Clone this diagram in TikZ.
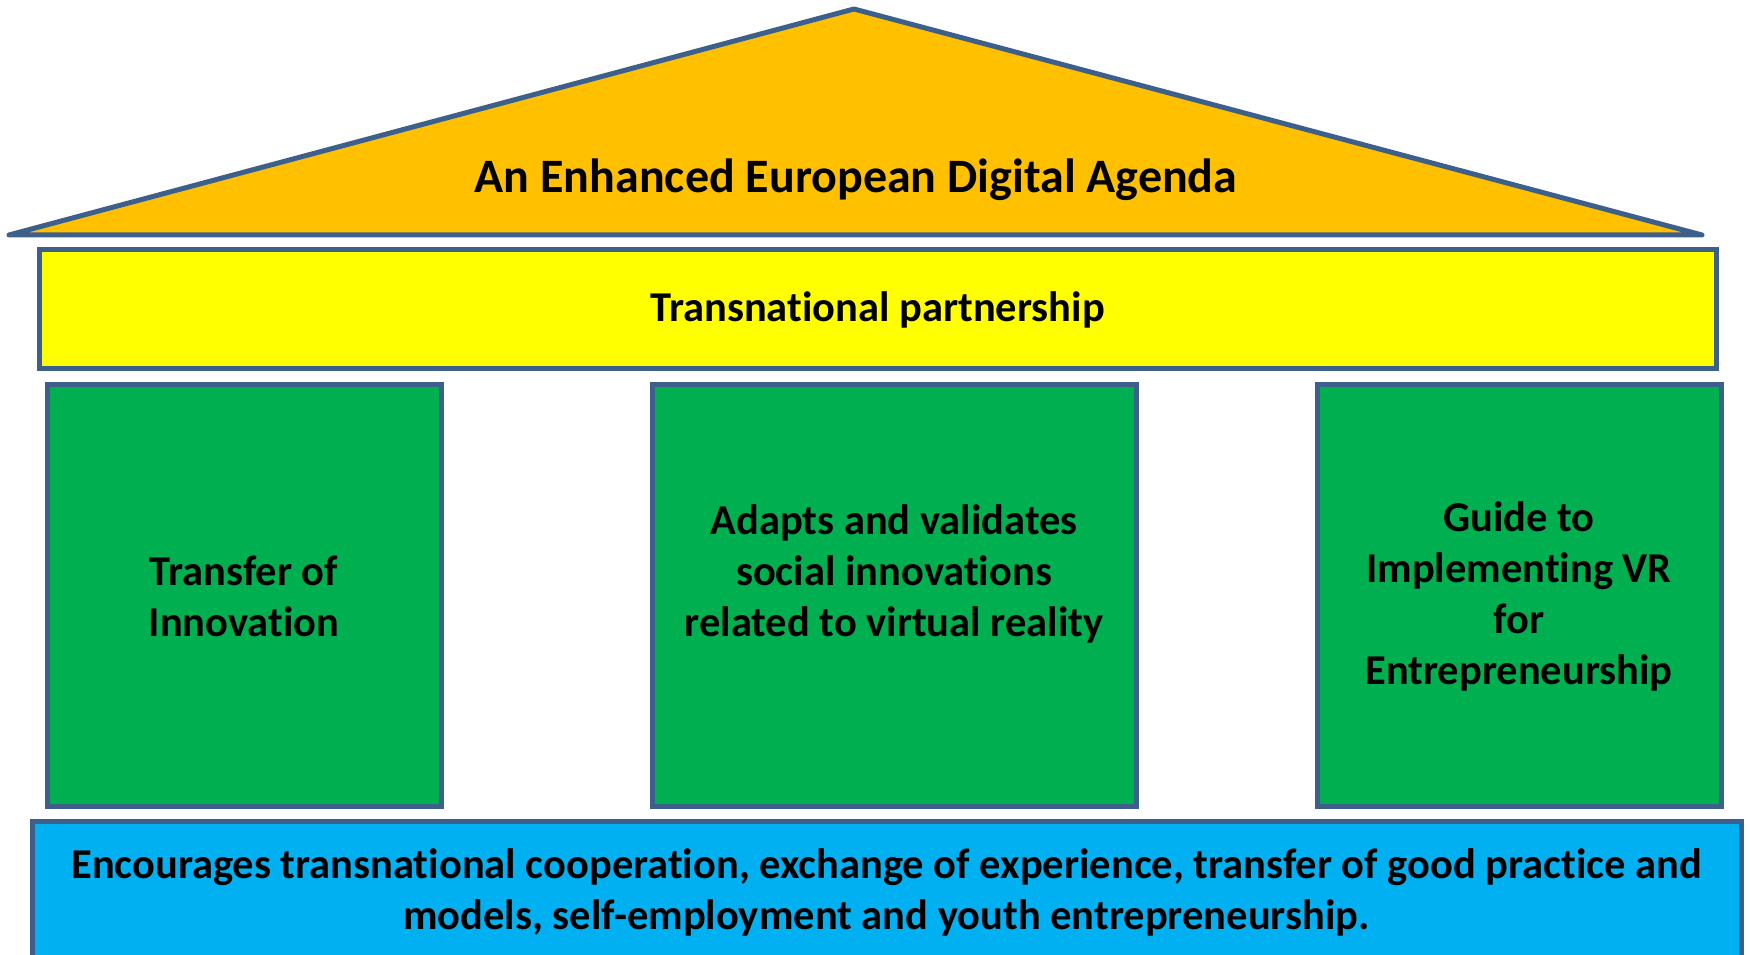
\documentclass[tikz,border=0pt]{standalone}
\usepackage{fontspec}
\setmainfont[Ligatures={NoCommon}]{Carlito}
\usepackage{tikz}
\definecolor{edgeblue}{HTML}{3C5F8C}
\definecolor{roofyellow}{HTML}{FFC000}
\definecolor{bandyellow}{HTML}{FFFF00}
\definecolor{pillargreen}{HTML}{00B050}
\definecolor{basecyan}{HTML}{00B0F0}
\tikzset{
  bigtext/.style={font=\fontsize{42.5}{51}\selectfont\bfseries,align=center},
  block/.style={draw=edgeblue,line width=5pt,rectangle,bigtext,inner sep=0pt},
  pillar/.style={block,fill=pillargreen,minimum height=422pt},
}
\begin{document}
\begin{tikzpicture}[x=1pt,y=1pt]
  \useasboundingbox (0,0) rectangle (1750,955);
  \clip (0,0) rectangle (1750,955);
  % roof
  \coordinate (apex) at (854,946);
  \coordinate (eaveL) at (9,720);
  \coordinate (eaveR) at (1702,720);
  \draw[edgeblue,line width=5pt,line join=round,line cap=round,fill=roofyellow]
    (eaveL)--(apex)--(eaveR)--cycle;
  \node[font=\fontsize{48}{58}\selectfont\bfseries] (agenda) at (856,775)
    {An Enhanced European Digital Agenda};
  % partnership band
  \node[block,fill=bandyellow,minimum width=1677pt,minimum height=119pt]
    (partner) at (877.5,645.5) {Transnational partnership};
  % pillars
  \node[pillar,minimum width=394pt] (transfer) at (244,359)
    {Transfer of\\Innovation};
  \node[pillar,minimum width=484pt] (adapts) at (894,359)
    {Adapts and validates\\social innovations\\related to virtual reality\\~};
  \node[pillar,minimum width=404pt] (guide) at (1519,359)
    {Guide to\\Implementing VR\\for\\Entrepreneurship};
  % foundation
  \node[block,fill=basecyan,minimum width=1709pt,minimum height=173pt]
    (base) at (886.5,46.5) {};
  \node[bigtext] (basetext) at (886.5,63)
    {Encourages transnational cooperation, exchange of experience, transfer of good practice and\\
     models, self-employment and youth entrepreneurship.};
\end{tikzpicture}
\end{document}
